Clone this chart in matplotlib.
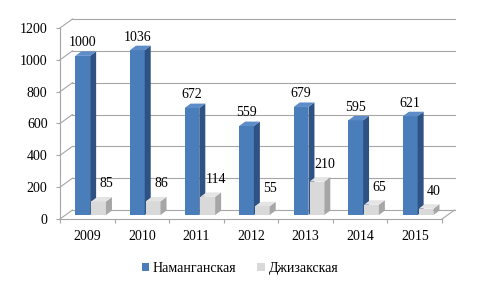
import matplotlib
matplotlib.use("Agg")
import matplotlib.pyplot as plt
from matplotlib.patches import Polygon, Patch

years = ["2009", "2010", "2011", "2012", "2013", "2014", "2015"]
namangan = [1000, 1036, 672, 559, 679, 595, 621]
jizzakh = [85, 86, 114, 55, 210, 65, 40]
yticks = [0, 200, 400, 600, 800, 1000, 1200]

plt.rcParams['font.family'] = ['Liberation Serif', 'DejaVu Serif']

fig = plt.figure(figsize=(4.8, 2.88), dpi=100)
ax = fig.add_axes([0.125, 0.2396, 0.796, 0.6632])
n = len(years)
ax.set_xlim(0, n)
ax.set_ylim(0, 1200)

# depth of the 3d box, in data units
wx, wy = 0.229, 56.5
# bars: front face offset and bar depth
fx, fy = 0.097, 25
bx, by = 0.11, 28

grid_c = "#a6a6a6"
for v in yticks:
    ax.plot([0, wx], [v, v + wy], color=grid_c, lw=0.8, clip_on=False, zorder=1)
    ax.plot([wx, n + wx], [v + wy, v + wy], color=grid_c, lw=0.8, clip_on=False, zorder=1)
ax.plot([n, n + wx], [0, wy], color=grid_c, lw=0.8, clip_on=False, zorder=1)

for s in ["top", "right"]:
    ax.spines[s].set_visible(False)
ax.spines["left"].set_color(grid_c)
ax.spines["bottom"].set_color(grid_c)
ax.set_yticks(yticks)
ax.set_xticks(range(n + 1))
ax.set_xticklabels([])
ax.tick_params(axis="y", length=3, color=grid_c, labelsize=10, pad=6)
ax.tick_params(axis="x", length=3, color=grid_c)
for i, y in enumerate(years):
    ax.text(i + 0.5, -110, y, ha="center", va="center", fontsize=10)


def bar3d(x0, w, h, front, side, top):
    xl, xr = x0 + fx, x0 + w + fx
    yb, yt = fy, h + fy
    ax.add_patch(Polygon([(xl, yb), (xr, yb), (xr, yt), (xl, yt)],
                         facecolor=front, edgecolor="none", clip_on=False, zorder=3))
    ax.add_patch(Polygon([(xr, yb), (xr + bx, yb + by), (xr + bx, yt + by), (xr, yt)],
                         facecolor=side, edgecolor="none", clip_on=False, zorder=3))
    ax.add_patch(Polygon([(xl, yt), (xr, yt), (xr + bx, yt + by), (xl + bx, yt + by)],
                         facecolor=top, edgecolor="none", clip_on=False, zorder=3))
    return (xl + xr) / 2, yt


w = 0.27
for i in range(n):
    c = i + 0.5
    cx, ty = bar3d(c - 0.315, w, namangan[i], "#4a7ebb", "#2d5283", "#5d8cc8")
    ax.annotate(str(namangan[i]), (cx, ty), xytext=(0, 9.4), textcoords="offset points",
                ha="center", va="center", fontsize=10, zorder=5)
    cx, ty = bar3d(c - 0.025, w, jizzakh[i], "#d9d9d9", "#a6a6a6", "#e4e4e4")
    ax.annotate(str(jizzakh[i]), (cx, ty), xytext=(5.8, 12.6), textcoords="offset points",
                ha="center", va="center", fontsize=10, zorder=5)

handles = [Patch(facecolor="#4a7ebb", label="Наманганская"),
           Patch(facecolor="#d9d9d9", label="Джизакская")]
fig.legend(handles=handles, loc="center", bbox_to_anchor=(0.5, 0.069), ncol=2,
           frameon=False, fontsize=10, handlelength=0.55, handleheight=0.55,
           handletextpad=0.25, columnspacing=1.5)

fig.savefig("out.png", dpi=100)
